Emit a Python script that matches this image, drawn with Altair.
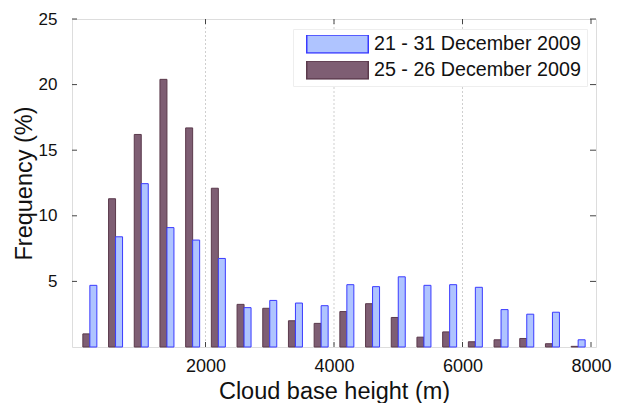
import altair as alt
import pandas as pd

# bin centres (m)
heights = [200, 600, 1000, 1400, 1800, 2200, 2600, 3000, 3400, 3800,
           4200, 4600, 5000, 5400, 5800, 6200, 6600, 7000, 7400, 7800]
# frequencies (%)
freq_21_31 = [4.7, 8.4, 12.45, 9.1, 8.15, 6.75, 3.0, 3.55, 3.35, 3.15,
              4.75, 4.6, 5.35, 4.7, 4.75, 4.55, 2.85, 2.5, 2.65, 0.55]
freq_25_26 = [1.0, 11.3, 16.2, 20.4, 16.7, 12.1, 3.25, 2.95, 2.0, 1.8,
              2.7, 3.3, 2.25, 0.75, 1.15, 0.4, 0.55, 0.65, 0.25, 0.05]

s1 = "21 - 31 December 2009"
s2 = "25 - 26 December 2009"

x_ticks = [2000, 4000, 6000, 8000]
grid_x = [2000, 4000, 6000]
y_ticks = [5, 10, 15, 20, 25]

df = pd.DataFrame({
    "h": heights * 2,
    "f": freq_21_31 + freq_25_26,
    "series": [s1] * len(heights) + [s2] * len(heights),
})

W, H = 524, 328
FONT = "Liberation Sans"

xscale = alt.Scale(domain=[0, 8000], nice=False, zero=False)
yscale = alt.Scale(domain=[0, 25], nice=False)
col_scale = alt.Scale(domain=[s1, s2], range=["#afc4ff", "#7e5e73"])
str_scale = alt.Scale(domain=[s1, s2], range=["#3a3aff", "#5b3a4c"])

x_enc = alt.X("h:Q", scale=xscale,
              axis=alt.Axis(values=x_ticks, title="Cloud base height (m)", format="d",
                            grid=False, domain=False, ticks=False, tickSize=0,
                            labelFontSize=18, labelPadding=10,
                            labelColor="#111", titleColor="#111",
                            titleFontSize=23.5, titleFontWeight="normal",
                            titleBaseline="alphabetic", titleY=51, labelFlush=False))
y_enc = alt.Y("f:Q", scale=yscale,
              axis=alt.Axis(values=y_ticks, title="Frequency (%)", grid=False,
                            domain=False, ticks=False, tickSize=0,
                            labelFontSize=17, labelPadding=15,
                            labelColor="#111", titleColor="#111",
                            titleFontSize=23.5, titleFontWeight="normal",
                            titleX=-48, titleBaseline="middle"))

legend = alt.Legend(
    title=None, orient="none", legendX=221, legendY=10,
    fillColor="white", strokeColor="#eeeeee", padding=6,
    symbolType="M-1,-0.295H1V0.295H-1Z", symbolSize=3782,
    symbolStrokeWidth=1.5, symbolOffset=7, clipHeight=18, rowPadding=6,
    labelFontSize=19.7, labelFont=FONT, labelColor="#111", labelOffset=5,
    labelLimit=400, symbolOpacity=1,
)
color_enc = alt.Color("series:N", scale=col_scale, legend=legend)
stroke_enc = alt.Stroke("series:N", scale=str_scale, legend=legend)

gx = pd.DataFrame({"h": grid_x})
grid = alt.Chart(gx).mark_rule(color="#cfcfcf", strokeDash=[2, 2], strokeWidth=1).encode(
    x=alt.X("h:Q", scale=xscale), y=alt.value(0), y2=alt.value(H))

base = alt.Chart(df)
dark = base.transform_filter(alt.datum.series == s2).mark_bar(
    width=7, xOffset=-3.5, strokeWidth=1
).encode(x=x_enc, y=y_enc, color=color_enc, stroke=stroke_enc)
blue = base.transform_filter(alt.datum.series == s1).mark_bar(
    width=7, xOffset=3.5, strokeWidth=1
).encode(x=x_enc, y=y_enc, color=color_enc, stroke=stroke_enc)

xt = pd.DataFrame({"h": x_ticks})
yt = pd.DataFrame({"f": y_ticks})
tick_style = dict(color="#444", strokeWidth=1)
xt_bottom = alt.Chart(xt).mark_rule(**tick_style).encode(
    x=alt.X("h:Q", scale=xscale), y=alt.value(H), y2=alt.value(H - 5))
xt_top = alt.Chart(xt).mark_rule(**tick_style).encode(
    x=alt.X("h:Q", scale=xscale), y=alt.value(0), y2=alt.value(5))
yt_left = alt.Chart(yt).mark_rule(**tick_style).encode(
    y=alt.Y("f:Q", scale=yscale), x=alt.value(0), x2=alt.value(5))
yt_right = alt.Chart(yt).mark_rule(**tick_style).encode(
    y=alt.Y("f:Q", scale=yscale), x=alt.value(W), x2=alt.value(W - 6))

chart = alt.layer(grid, dark, blue, xt_bottom, xt_top, yt_left, yt_right).properties(
    width=W, height=H,
    autosize=alt.AutoSizeParams(type="none"),
    padding={"left": 72, "top": 19, "right": 23, "bottom": 56},
    background="white",
).configure_view(
    stroke="#333", strokeWidth=1
).configure(font=FONT)

chart.save("out.html", embed_options={"renderer": "svg", "actions": False})
